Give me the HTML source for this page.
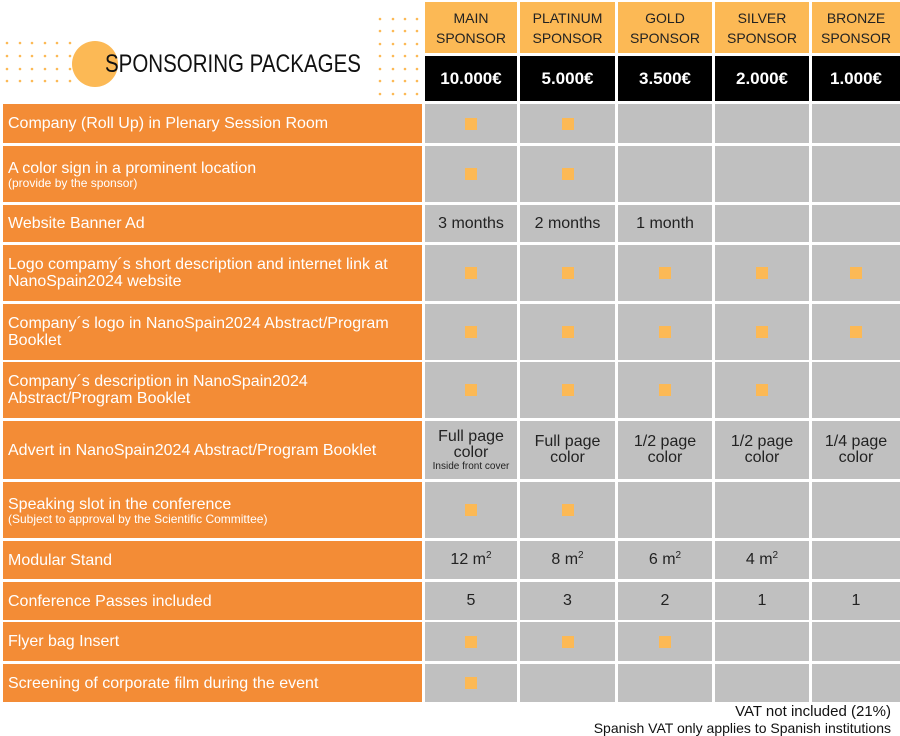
<!DOCTYPE html>
<html><head><meta charset="utf-8"><style>
body{margin:0;width:900px;height:735px;background:#fff;position:relative;overflow:hidden;font-family:"Liberation Sans",sans-serif}
.c{position:absolute;display:flex;align-items:center;justify-content:center;text-align:center;box-sizing:border-box}
.l{position:absolute;left:3px;width:419px;background:#f38c36;color:#fff;font-size:16px;display:flex;flex-direction:column;justify-content:center;padding-left:5px;box-sizing:border-box;line-height:17px}
.l small{font-size:12px;line-height:12px}
.g{background:#c0c0c0;color:#222;font-size:16px;line-height:16px}
.y{background:#fcb955;color:#222;font-size:14px;line-height:20px}
.b{background:#000;color:#fff;font-weight:bold;font-size:17px}
.sq{width:12px;height:12px;background:#fcb955}
sup{font-size:10px;vertical-align:6px;line-height:0}
</style></head><body>
<div style="position:absolute;left:72px;top:41px;width:46px;height:46px;border-radius:50%;background:#fcb955"></div>
<svg style="position:absolute;left:0;top:0" width="430" height="130">
<g fill="#fcb955">
<circle cx="7" cy="43" r="1.3"/><circle cx="20" cy="43" r="1.3"/><circle cx="32" cy="43" r="1.3"/><circle cx="45" cy="43" r="1.3"/><circle cx="57" cy="43" r="1.3"/><circle cx="70" cy="43" r="1.3"/>
<circle cx="7" cy="56" r="1.3"/><circle cx="20" cy="56" r="1.3"/><circle cx="32" cy="56" r="1.3"/><circle cx="45" cy="56" r="1.3"/><circle cx="57" cy="56" r="1.3"/><circle cx="70" cy="56" r="1.3"/>
<circle cx="7" cy="69" r="1.3"/><circle cx="20" cy="69" r="1.3"/><circle cx="32" cy="69" r="1.3"/><circle cx="45" cy="69" r="1.3"/><circle cx="57" cy="69" r="1.3"/><circle cx="70" cy="69" r="1.3"/>
<circle cx="7" cy="81" r="1.3"/><circle cx="20" cy="81" r="1.3"/><circle cx="32" cy="81" r="1.3"/><circle cx="45" cy="81" r="1.3"/><circle cx="57" cy="81" r="1.3"/><circle cx="70" cy="81" r="1.3"/>
</g>
<g fill="#fcb955">
<circle cx="380" cy="19" r="1.3"/><circle cx="393" cy="19" r="1.3"/><circle cx="405" cy="19" r="1.3"/><circle cx="417" cy="19" r="1.3"/>
<circle cx="380" cy="31" r="1.3"/><circle cx="393" cy="31" r="1.3"/><circle cx="405" cy="31" r="1.3"/><circle cx="417" cy="31" r="1.3"/>
<circle cx="380" cy="44" r="1.3"/><circle cx="393" cy="44" r="1.3"/><circle cx="405" cy="44" r="1.3"/><circle cx="417" cy="44" r="1.3"/>
<circle cx="380" cy="56" r="1.3"/><circle cx="393" cy="56" r="1.3"/><circle cx="405" cy="56" r="1.3"/><circle cx="417" cy="56" r="1.3"/>
<circle cx="380" cy="69" r="1.3"/><circle cx="393" cy="69" r="1.3"/><circle cx="405" cy="69" r="1.3"/><circle cx="417" cy="69" r="1.3"/>
<circle cx="380" cy="81" r="1.3"/><circle cx="393" cy="81" r="1.3"/><circle cx="405" cy="81" r="1.3"/><circle cx="417" cy="81" r="1.3"/>
<circle cx="380" cy="94" r="1.3"/><circle cx="393" cy="94" r="1.3"/><circle cx="405" cy="94" r="1.3"/><circle cx="417" cy="94" r="1.3"/>
<circle cx="380" cy="106" r="1.3"/><circle cx="393" cy="106" r="1.3"/><circle cx="405" cy="106" r="1.3"/><circle cx="417" cy="106" r="1.3"/>
<circle cx="380" cy="118" r="1.3"/><circle cx="393" cy="118" r="1.3"/><circle cx="405" cy="118" r="1.3"/><circle cx="417" cy="118" r="1.3"/>
</g></svg>
<div style="position:absolute;left:105px;top:50px;font-size:25px;color:#111;white-space:nowrap;transform:scaleX(0.82);transform-origin:left">SPONSORING PACKAGES</div>

<div class="c y" style="left:425px;top:2px;width:92px;height:51px">MAIN<br>SPONSOR</div>
<div class="c y" style="left:520px;top:2px;width:95px;height:51px">PLATINUM<br>SPONSOR</div>
<div class="c y" style="left:618px;top:2px;width:94px;height:51px">GOLD<br>SPONSOR</div>
<div class="c y" style="left:715px;top:2px;width:94px;height:51px">SILVER<br>SPONSOR</div>
<div class="c y" style="left:812px;top:2px;width:88px;height:51px">BRONZE<br>SPONSOR</div>
<div class="c b" style="left:425px;top:56px;width:92px;height:45px">10.000€</div>
<div class="c b" style="left:520px;top:56px;width:95px;height:45px">5.000€</div>
<div class="c b" style="left:618px;top:56px;width:94px;height:45px">3.500€</div>
<div class="c b" style="left:715px;top:56px;width:94px;height:45px">2.000€</div>
<div class="c b" style="left:812px;top:56px;width:88px;height:45px">1.000€</div>

<div class="l" style="top:104px;height:39px">Company (Roll Up) in Plenary Session Room</div>
<div class="l" style="top:146px;height:56px">A color sign in a prominent location<small>(provide by the sponsor)</small></div>
<div class="l" style="top:205px;height:37px">Website Banner Ad</div>
<div class="l" style="top:245px;height:56px">Logo compamy´s short description and internet link at<br>NanoSpain2024 website</div>
<div class="l" style="top:304px;height:56px">Company´s logo in NanoSpain2024 Abstract/Program<br>Booklet</div>
<div class="l" style="top:362px;height:56px">Company´s description in NanoSpain2024<br>Abstract/Program Booklet</div>
<div class="l" style="top:421px;height:58px">Advert in NanoSpain2024 Abstract/Program Booklet</div>
<div class="l" style="top:482px;height:56px">Speaking slot in the conference<small>(Subject to approval by the Scientific Committee)</small></div>
<div class="l" style="top:541px;height:38px">Modular Stand</div>
<div class="l" style="top:582px;height:38px">Conference Passes included</div>
<div class="l" style="top:622px;height:39px">Flyer bag Insert</div>
<div class="l" style="top:664px;height:38px">Screening of corporate film during the event</div>

<div class="c g" style="left:425px;top:104px;width:92px;height:39px"><div class="sq"></div></div>
<div class="c g" style="left:520px;top:104px;width:95px;height:39px"><div class="sq"></div></div>
<div class="c g" style="left:618px;top:104px;width:94px;height:39px"></div>
<div class="c g" style="left:715px;top:104px;width:94px;height:39px"></div>
<div class="c g" style="left:812px;top:104px;width:88px;height:39px"></div>

<div class="c g" style="left:425px;top:146px;width:92px;height:56px"><div class="sq"></div></div>
<div class="c g" style="left:520px;top:146px;width:95px;height:56px"><div class="sq"></div></div>
<div class="c g" style="left:618px;top:146px;width:94px;height:56px"></div>
<div class="c g" style="left:715px;top:146px;width:94px;height:56px"></div>
<div class="c g" style="left:812px;top:146px;width:88px;height:56px"></div>

<div class="c g" style="left:425px;top:205px;width:92px;height:37px">3 months</div>
<div class="c g" style="left:520px;top:205px;width:95px;height:37px">2 months</div>
<div class="c g" style="left:618px;top:205px;width:94px;height:37px">1 month</div>
<div class="c g" style="left:715px;top:205px;width:94px;height:37px"></div>
<div class="c g" style="left:812px;top:205px;width:88px;height:37px"></div>

<div class="c g" style="left:425px;top:245px;width:92px;height:56px"><div class="sq"></div></div>
<div class="c g" style="left:520px;top:245px;width:95px;height:56px"><div class="sq"></div></div>
<div class="c g" style="left:618px;top:245px;width:94px;height:56px"><div class="sq"></div></div>
<div class="c g" style="left:715px;top:245px;width:94px;height:56px"><div class="sq"></div></div>
<div class="c g" style="left:812px;top:245px;width:88px;height:56px"><div class="sq"></div></div>

<div class="c g" style="left:425px;top:304px;width:92px;height:56px"><div class="sq"></div></div>
<div class="c g" style="left:520px;top:304px;width:95px;height:56px"><div class="sq"></div></div>
<div class="c g" style="left:618px;top:304px;width:94px;height:56px"><div class="sq"></div></div>
<div class="c g" style="left:715px;top:304px;width:94px;height:56px"><div class="sq"></div></div>
<div class="c g" style="left:812px;top:304px;width:88px;height:56px"><div class="sq"></div></div>

<div class="c g" style="left:425px;top:362px;width:92px;height:56px"><div class="sq"></div></div>
<div class="c g" style="left:520px;top:362px;width:95px;height:56px"><div class="sq"></div></div>
<div class="c g" style="left:618px;top:362px;width:94px;height:56px"><div class="sq"></div></div>
<div class="c g" style="left:715px;top:362px;width:94px;height:56px"><div class="sq"></div></div>
<div class="c g" style="left:812px;top:362px;width:88px;height:56px"></div>

<div class="c g" style="left:425px;top:421px;width:92px;height:58px"><div>Full page<br>color<br><span style="font-size:10px;line-height:11px;display:block">Inside front cover</span></div></div>
<div class="c g" style="left:520px;top:421px;width:95px;height:58px">Full page<br>color</div>
<div class="c g" style="left:618px;top:421px;width:94px;height:58px">1/2 page<br>color</div>
<div class="c g" style="left:715px;top:421px;width:94px;height:58px">1/2 page<br>color</div>
<div class="c g" style="left:812px;top:421px;width:88px;height:58px">1/4 page<br>color</div>

<div class="c g" style="left:425px;top:482px;width:92px;height:56px"><div class="sq"></div></div>
<div class="c g" style="left:520px;top:482px;width:95px;height:56px"><div class="sq"></div></div>
<div class="c g" style="left:618px;top:482px;width:94px;height:56px"></div>
<div class="c g" style="left:715px;top:482px;width:94px;height:56px"></div>
<div class="c g" style="left:812px;top:482px;width:88px;height:56px"></div>

<div class="c g" style="left:425px;top:541px;width:92px;height:38px"><span>12 m<sup>2</sup></span></div>
<div class="c g" style="left:520px;top:541px;width:95px;height:38px"><span>8 m<sup>2</sup></span></div>
<div class="c g" style="left:618px;top:541px;width:94px;height:38px"><span>6 m<sup>2</sup></span></div>
<div class="c g" style="left:715px;top:541px;width:94px;height:38px"><span>4 m<sup>2</sup></span></div>
<div class="c g" style="left:812px;top:541px;width:88px;height:38px"></div>

<div class="c g" style="left:425px;top:582px;width:92px;height:38px">5</div>
<div class="c g" style="left:520px;top:582px;width:95px;height:38px">3</div>
<div class="c g" style="left:618px;top:582px;width:94px;height:38px">2</div>
<div class="c g" style="left:715px;top:582px;width:94px;height:38px">1</div>
<div class="c g" style="left:812px;top:582px;width:88px;height:38px">1</div>

<div class="c g" style="left:425px;top:622px;width:92px;height:39px"><div class="sq"></div></div>
<div class="c g" style="left:520px;top:622px;width:95px;height:39px"><div class="sq"></div></div>
<div class="c g" style="left:618px;top:622px;width:94px;height:39px"><div class="sq"></div></div>
<div class="c g" style="left:715px;top:622px;width:94px;height:39px"></div>
<div class="c g" style="left:812px;top:622px;width:88px;height:39px"></div>

<div class="c g" style="left:425px;top:664px;width:92px;height:38px"><div class="sq"></div></div>
<div class="c g" style="left:520px;top:664px;width:95px;height:38px"></div>
<div class="c g" style="left:618px;top:664px;width:94px;height:38px"></div>
<div class="c g" style="left:715px;top:664px;width:94px;height:38px"></div>
<div class="c g" style="left:812px;top:664px;width:88px;height:38px"></div>

<div style="position:absolute;right:9px;top:703px;text-align:right;color:#111;font-size:14px;line-height:16px">
<span style="font-size:15px">VAT not included (21%)</span><br>Spanish VAT only applies to Spanish institutions</div>
</body></html>
